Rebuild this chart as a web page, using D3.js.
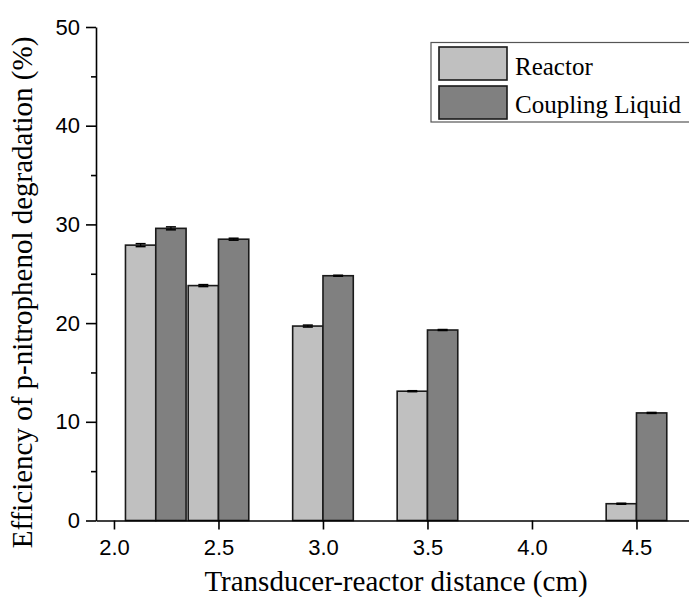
<!DOCTYPE html>
<html>
<head>
<meta charset="utf-8">
<script src="https://cdn.jsdelivr.net/npm/d3@7"></script>
<style>
  body { margin: 0; background: #fff; }
  svg { display: block; }
</style>
</head>
<body>
<svg id="chart"></svg>
<script>
const distances = [2.2, 2.5, 3.0, 3.5, 4.0, 4.5];
const reactor = [27.9, 23.8, 19.7, 13.1, 0, 1.7];
const coupling = [29.6, 28.5, 24.8, 19.3, 0, 10.9];
const errReactor = [0.15, 0.1, 0.1, 0.05, 0, 0.05];
const errCoupling = [0.15, 0.1, 0.05, 0.05, 0, 0.05];
const seriesNames = ["Reactor", "Coupling Liquid"];
const xTicks = [2.0, 2.5, 3.0, 3.5, 4.0, 4.5];
const yTicks = [0, 10, 20, 30, 40, 50];
const yMinorTicks = [5, 15, 25, 35, 45];

const size = { width: 689, height: 604 };
const margin = { left: 96, top: 27, bottom: 83.5 };
const COLORS = ["#c0c0c0", "#808080"];
const barW = 0.145;

const svg = d3
  .select("#chart")
  .attr("width", size.width)
  .attr("height", size.height);

const x = d3
  .scaleLinear()
  .domain([1.914, 4.8])
  .range([margin.left, margin.left + 2.886 * 209]);

const y = d3
  .scaleLinear()
  .domain([0, 50])
  .range([size.height - margin.bottom, margin.top]);

// bars
const series = [
  { name: seriesNames[0], values: reactor, err: errReactor, offset: -barW },
  { name: seriesNames[1], values: coupling, err: errCoupling, offset: 0 },
];

series.forEach((s, si) => {
  const rows = distances
    .map((d, i) => ({ d, v: s.values[i], e: s.err[i] }))
    .filter((r) => r.v > 0);
  const g = svg.append("g");
  g.selectAll("rect")
    .data(rows)
    .enter()
    .append("rect")
    .attr("x", (r) => x(r.d + s.offset))
    .attr("width", x(barW) - x(0))
    .attr("y", (r) => y(r.v))
    .attr("height", (r) => y(0) - y(r.v))
    .attr("fill", COLORS[si])
    .attr("stroke", "#1a1a1a")
    .attr("stroke-width", 1.6);
  // error bars
  const cx = (r) => x(r.d + s.offset + barW / 2);
  g.selectAll("line.err")
    .data(rows)
    .enter()
    .append("line")
    .attr("class", "err")
    .attr("x1", cx)
    .attr("x2", cx)
    .attr("y1", (r) => y(r.v - r.e))
    .attr("y2", (r) => y(r.v + r.e))
    .attr("stroke", "#000")
    .attr("stroke-width", 1.2);
  [-1, 1].forEach((sign, k) => {
    g.selectAll("line.cap" + k)
      .data(rows)
      .enter()
      .append("line")
      .attr("class", "cap" + k)
      .attr("x1", (r) => cx(r) - 5)
      .attr("x2", (r) => cx(r) + 5)
      .attr("y1", (r) => y(r.v + sign * r.e))
      .attr("y2", (r) => y(r.v + sign * r.e))
      .attr("stroke", "#000")
      .attr("stroke-width", 1.5);
  });
});

// axes
svg
  .append("g")
  .attr("transform", `translate(0, ${y(0)})`)
  .call(
    d3
      .axisBottom(x)
      .tickValues(xTicks)
      .tickFormat(d3.format(".1f"))
      .tickSize(9)
      .tickSizeOuter(0)
      .tickPadding(10)
  );

svg
  .append("g")
  .attr("transform", `translate(${margin.left}, 0)`)
  .call(
    d3
      .axisLeft(y)
      .tickValues(yTicks)
      .tickSize(10)
      .tickSizeOuter(0)
      .tickPadding(6)
  );

svg
  .append("g")
  .attr("transform", `translate(${margin.left}, 0)`)
  .call(d3.axisLeft(y).tickValues(yMinorTicks).tickSize(5).tickFormat(""))
  .select(".domain")
  .remove();

svg
  .selectAll(".tick line, .domain")
  .attr("stroke", "#000")
  .attr("stroke-width", 1.6);
svg
  .selectAll(".tick text")
  .attr("fill", "#000")
  .style("font-family", "'Liberation Sans', Arial, sans-serif")
  .style("font-size", "22px");

// axis titles
svg
  .append("text")
  .attr("x", 396)
  .attr("y", 591)
  .attr("text-anchor", "middle")
  .style("font-family", "'Liberation Serif', 'Times New Roman', serif")
  .style("font-size", "29px")
  .text("Transducer-reactor distance (cm)");

svg
  .append("text")
  .attr("transform", "translate(32, 292.5) rotate(-90)")
  .attr("text-anchor", "middle")
  .style("font-family", "'Liberation Serif', 'Times New Roman', serif")
  .style("font-size", "29px")
  .text("Efficiency of p-nitrophenol degradation (%)");

// legend
const legend = svg.append("g");
legend
  .append("rect")
  .attr("x", 431)
  .attr("y", 42.5)
  .attr("width", 280)
  .attr("height", 79.5)
  .attr("fill", "#fff")
  .attr("stroke", "#555")
  .attr("stroke-width", 1.2);
seriesNames.forEach((name, i) => {
  legend
    .append("rect")
    .attr("x", 439)
    .attr("y", 47 + i * 39)
    .attr("width", 68)
    .attr("height", 33)
    .attr("fill", COLORS[i])
    .attr("stroke", "#1a1a1a")
    .attr("stroke-width", 1.6);
  legend
    .append("text")
    .attr("x", 515)
    .attr("y", 74.5 + i * 38.5)
    .style("font-family", "'Liberation Serif', 'Times New Roman', serif")
    .style("font-size", "25px")
    .text(name);
});
</script>
</body>
</html>
